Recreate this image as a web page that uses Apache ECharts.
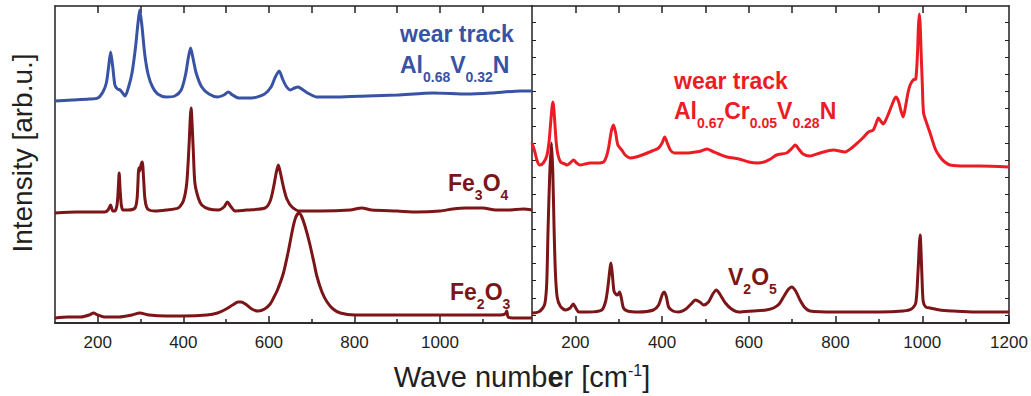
<!DOCTYPE html>
<html>
<head>
<meta charset="utf-8">
<script src="https://cdn.jsdelivr.net/npm/echarts@6/dist/echarts.min.js"></script>
<style>
  html, body { margin: 0; padding: 0; background: #ffffff; }
  #chart { width: 1031px; height: 396px; }
</style>
</head>
<body>
<div id="chart"></div>
<script>
// ---- Data: [wave number, intensity (arb. u., offset stacked)] ----
// Left panel
const alvnWearTrack = [[100,222],[140,223],[180,224],[200,225],[212,231],[220,240],[225,255],[230,271],[235,256],[240,238],[246,234],[252,233],[258,230],[264,227],[272,236],[280,250],[288,275],[294,300],[298,313],[303,298],[310,268],[318,248],[328,236],[340,229],[360,226],[380,227],[395,233],[405,248],[412,266],[417,275],[422,266],[430,250],[443,236],[460,229],[480,226],[495,228],[505,231],[515,228],[530,225],[560,225],[590,229],[605,236],[615,246],[624,252],[632,244],[640,237],[650,233],[660,235],[668,236],[680,233],[695,229],[712,226],[760,226],[830,227],[900,228],[985,230],[1063,229],[1120,230],[1188,232],[1215,232]];
const fe3o4 = [[100,110],[150,111],[200,111],[216,111],[224,113],[230,118],[235,112],[240,112],[245,118],[248,135],[250,150],[252,135],[255,118],[259,113],[270,113],[287,115],[292,125],[296,155],[298,152],[301,158],[304,161],[307,145],[310,125],[314,116],[320,113],[333,112],[360,113],[388,115],[400,122],[408,140],[413,175],[418,215],[423,175],[427,140],[435,125],[443,118],[460,114],[482,113],[495,116],[503,121],[510,117],[521,112],[550,113],[591,115],[603,122],[611,136],[617,150],[622,158],[627,150],[634,136],[642,124],[654,116],[673,112],[720,112],[790,113],[817,115],[840,113],[900,112],[946,111],[1000,112],[1030,114],[1060,115],[1100,115],[1130,113],[1160,113],[1195,114],[1215,113]];
const fe2o3 = [[100,5],[130,6],[160,6],[180,8],[190,10],[200,8],[215,6],[250,6],[280,8],[298,10],[320,8],[360,7],[400,7],[455,8],[480,10],[500,14],[515,18],[528,21],[535,21],[545,19],[560,14],[575,12],[590,14],[603,19],[612,26],[620,33],[634,50],[646,73],[656,95],[663,106],[670,110],[676,107],[685,96],[695,80],[705,61],[712,47],[724,31],[736,21],[750,14],[767,10],[800,8],[900,8],[1000,8],[1100,8],[1140,8],[1152,9],[1156,12],[1159,6],[1170,5],[1215,5]];
// Right panel
const alcrvnWearTrack = [[100,180],[106,172],[112,162],[118,158],[126,160],[134,167],[139,180],[143,200],[146,215],[148,221],[150,216],[153,198],[156,180],[160,168],[166,161],[176,159],[181,158],[188,160],[196,163],[203,160],[211,158],[222,159],[234,160],[250,160],[265,161],[272,167],[277,176],[283,192],[288,198],[293,190],[298,178],[307,173],[315,168],[327,165],[340,166],[354,168],[377,172],[392,175],[400,180],[406,186],[412,180],[419,173],[428,170],[438,170],[460,170],[477,171],[490,172],[504,174],[515,172],[531,169],[550,166],[577,164],[600,161],[620,160],[635,161],[650,164],[664,168],[687,170],[700,175],[707,178],[715,174],[725,169],[741,167],[764,170],[795,173],[822,171],[840,176],[853,181],[865,186],[876,191],[887,193],[894,200],[899,205],[904,202],[910,199],[920,207],[930,218],[939,226],[945,222],[951,212],[956,206],[962,218],[967,230],[972,238],[979,243],[985,244],[989,270],[991,295],[993,309],[995,300],[997,275],[1000,240],[1003,210],[1010,200],[1018,190],[1030,174],[1041,166],[1052,161],[1064,158],[1100,157],[1133,157],[1200,156]];
const v2o5 = [[100,10],[115,11],[125,15],[130,20],[134,40],[137,93],[141,150],[145,180],[148,150],[151,93],[154,50],[158,26],[165,17],[177,13],[188,15],[195,19],[201,15],[208,11],[230,11],[261,13],[270,22],[275,36],[280,55],[282,60],[285,50],[289,32],[293,29],[297,28],[302,31],[306,25],[311,15],[320,12],[346,11],[380,13],[392,18],[400,28],[405,31],[410,26],[415,16],[425,12],[438,11],[455,14],[467,19],[477,23],[487,21],[496,18],[507,21],[517,29],[525,33],[533,29],[546,20],[560,14],[577,11],[610,12],[640,13],[657,15],[670,19],[680,26],[690,33],[699,36],[708,32],[718,23],[728,16],[741,12],[800,11],[841,11],[900,11],[956,12],[975,14],[985,20],[990,50],[995,88],[999,50],[1002,22],[1008,16],[1018,15],[1040,13],[1072,12],[1120,11],[1200,11]];

// Tick values
const leftTickLabels = [200, 400, 600, 800, 1000];
const leftMinorTicks = [300, 500, 700, 900, 1100];
const leftTopTicks = [200, 300, 400, 500, 600, 700, 800, 900, 1000, 1100];
const rightTickLabels = [200, 400, 600, 800, 1000, 1200];
const rightMinorTicks = [300, 500, 700, 900, 1100];
const rightTopTicks = [200, 300, 400, 500, 600, 700, 800, 900, 1000, 1100];
const rightYTicks = [8, 25.2, 42.4, 59.6, 76.8, 94, 111.2, 128.4, 145.6, 162.8, 180, 197.2, 214.4, 231.6, 248.8, 266, 283.2, 300.4];

const BLUE = '#3953a4', DARKRED = '#7c1518', RED = '#ec1c24', INK = '#231f20';
const FONT = 'Liberation Sans, Arial, sans-serif';

const chart = echarts.init(document.getElementById('chart'), null, { renderer: 'svg' });

function xAx(grid, pos, min, max, ticks, len, labels) {
  return {
    gridIndex: grid, type: 'value', position: pos, min: min, max: max,
    axisLine: { show: true, onZero: false, lineStyle: { color: INK, width: 1.5 } },
    axisTick: { show: true, inside: true, length: len, customValues: ticks, lineStyle: { color: INK, width: 1.5 } },
    axisLabel: labels ? { show: true, customValues: labels, fontSize: 17, color: INK, margin: 11, fontFamily: FONT,
                          formatter: function (v) { return String(v); } } : { show: false },
    splitLine: { show: false }, minorTick: { show: false }
  };
}
function yAx(grid, pos, ticks) {
  return {
    gridIndex: grid, type: 'value', position: pos, min: 0, max: 317,
    axisLine: { show: true, onZero: false, lineStyle: { color: INK, width: 1.5 } },
    axisTick: ticks ? { show: true, inside: true, length: 4, customValues: ticks, lineStyle: { color: INK, width: 1 } } : { show: false },
    axisLabel: { show: false }, splitLine: { show: false }
  };
}
function line(data, color, xi, yi, z) {
  return {
    type: 'line', data: data, xAxisIndex: xi, yAxisIndex: yi, showSymbol: false, symbol: 'none',
    smooth: 0.25, lineStyle: { color: color, width: 3 }, z: z, animation: false
  };
}

function richStyles(color) {
  return {
    b: { fontSize: 23, fontWeight: 'bold', fontFamily: FONT, fill: color, lineHeight: 23, verticalAlign: 'top' },
    s: { fontSize: 14, fontWeight: 'bold', fontFamily: FONT, fill: color, lineHeight: 14, verticalAlign: 'top', padding: [17, 0, 0, 0] }
  };
}
function label(text, x, y, color) {
  return { type: 'text', x: x, y: y, z: 100, style: { text: text, rich: richStyles(color), fill: color, textAlign: 'left', textVerticalAlign: 'top' } };
}

const option = {
  animation: false,
  backgroundColor: '#ffffff',
  grid: [
    { left: 55, top: 6, width: 477, height: 317 },
    { left: 532, top: 6, width: 477, height: 317 }
  ],
  xAxis: [
    xAx(0, 'bottom', 100, 1215, leftTickLabels, 7, leftTickLabels),
    xAx(0, 'bottom', 100, 1215, leftMinorTicks, 4, null),
    xAx(0, 'top', 100, 1215, leftTopTicks, 7, null),
    xAx(1, 'bottom', 100, 1200, rightTickLabels, 7, rightTickLabels),
    xAx(1, 'bottom', 100, 1200, rightMinorTicks, 4, null),
    xAx(1, 'top', 100, 1200, rightTopTicks, 7, null)
  ],
  yAxis: [
    yAx(0, 'left', null),
    yAx(1, 'left', rightYTicks),
    yAx(1, 'right', rightYTicks)
  ],
  series: [
    line(fe2o3, DARKRED, 0, 0, 2),
    line(fe3o4, DARKRED, 0, 0, 3),
    line(alvnWearTrack, BLUE, 0, 0, 4),
    line(alcrvnWearTrack, RED, 3, 1, 3),
    line(v2o5, DARKRED, 3, 1, 4)
  ],
  graphic: [
    { type: 'text', x: 400, y: 22, z: 100, style: { text: 'wear track', fill: BLUE, font: 'bold 23px ' + FONT, textAlign: 'left', textVerticalAlign: 'top' } },
    label('{b|Al}{s|0.68}{b|V}{s|0.32}{b|N}', 400, 53, BLUE),
    label('{b|Fe}{s|3}{b|O}{s|4}', 448, 171, DARKRED),
    label('{b|Fe}{s|2}{b|O}{s|3}', 450, 280, DARKRED),
    { type: 'text', x: 674, y: 69, z: 100, style: { text: 'wear track', fill: RED, font: 'bold 23px ' + FONT, textAlign: 'left', textVerticalAlign: 'top' } },
    label('{b|Al}{s|0.67}{b|Cr}{s|0.05}{b|V}{s|0.28}{b|N}', 674, 99, RED),
    label('{b|V}{s|2}{b|O}{s|5}', 728, 265, DARKRED),
    { type: 'text', x: 22, y: 153, rotation: Math.PI / 2, z: 100,
      style: { text: 'Intensity [arb.u.]', fill: INK, font: '28px ' + FONT, textAlign: 'center', textVerticalAlign: 'middle' } },
    { type: 'text', x: 522, y: 362, z: 100,
      style: {
        text: '{n|Wave numb}{e|e}{n|r [cm}{p|-1}{n|]}', textAlign: 'center', textVerticalAlign: 'top',
        rich: {
          n: { fontSize: 29, fontFamily: FONT, fill: INK, lineHeight: 29, verticalAlign: 'bottom' },
          e: { fontSize: 29, fontWeight: 'bold', fontFamily: FONT, fill: INK, lineHeight: 29, verticalAlign: 'bottom' },
          p: { fontSize: 16, fontFamily: FONT, fill: INK, lineHeight: 16, verticalAlign: 'top' }
        }
      } }
  ]
};
chart.setOption(option);
</script>
</body>
</html>
